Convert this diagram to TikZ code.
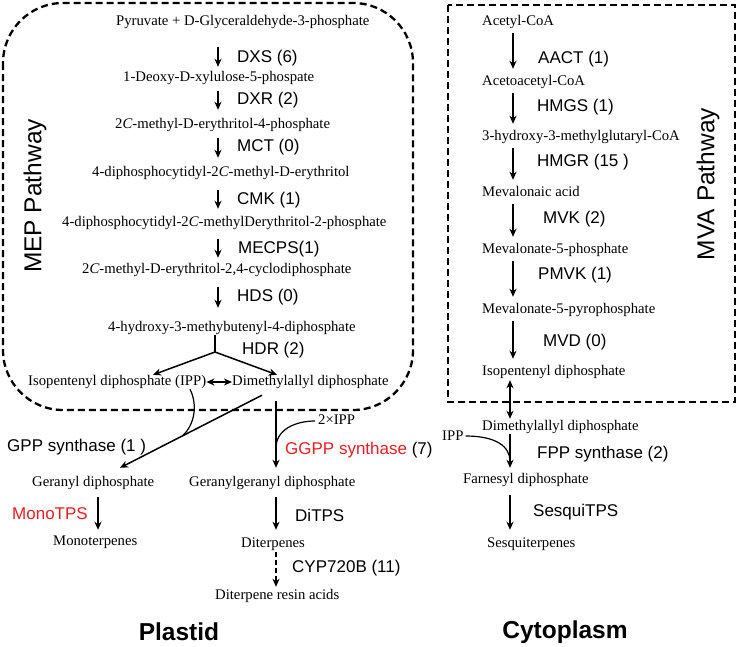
\documentclass[tikz,border=0pt]{standalone}
\usepackage{fontspec}
\setmainfont{Liberation Serif}
\setsansfont{Liberation Sans}
\usetikzlibrary{arrows.meta,calc}
\definecolor{enzred}{RGB}{230,30,36}
\tikzset{
  chem/.style={font=\fontsize{14.7}{16}\selectfont, inner sep=0pt, text height=10.5pt, text depth=3.5pt, anchor=west},
  enz/.style={font=\sffamily\fontsize{17}{19}\selectfont, inner sep=0pt, anchor=west},
  flow/.style={line width=1.5pt, -{Stealth[length=8pt,width=7pt,inset=2.5pt]}},
  dflow/.style={line width=1.5pt, {Stealth[length=8pt,width=7pt,inset=2.5pt]}-{Stealth[length=8pt,width=7pt,inset=2.5pt]}},
  region/.style={line width=2.3pt, dash pattern=on 7pt off 4pt},
  side/.style={font=\sffamily\fontsize{24.5}{26}\selectfont, rotate=90},
  place/.style={font=\sffamily\bfseries\fontsize{24.5}{26}\selectfont}
}
\begin{document}
\begin{tikzpicture}[x=1pt,y=-1pt]
    \useasboundingbox (0,0) rectangle (739,646);

    % compartments
    \draw[region, rounded corners=60pt] (3,3) rectangle (413,410); % MEP
    \draw[region] (448,5) rectangle (735,402); % MVA
    \node[side] (meplab) at (35,196) {MEP Pathway};
    \node[side] (mvalab) at (708,184) {MVA Pathway};

    % MEP pathway
    \coordinate (mepx) at (218,0);
    \node[chem] (pyr) at (116,22) {Pyruvate + D-Glyceraldehyde-3-phosphate};
    \node[chem] (dxp) at (123,78) {1-Deoxy-D-xylulose-5-phospate};
    \node[chem] (mep) at (115,125) {2\textit{C}-methyl-D-erythritol-4-phosphate};
    \node[chem] (cdpme) at (92,173) {4-diphosphocytidyl-2\textit{C}-methyl-D-erythritol};
    \node[chem] (cdpmep) at (62,223) {4-diphosphocytidyl-2\textit{C}-methylDerythritol-2-phosphate};
    \node[chem] (mecpp) at (82,270) {2\textit{C}-methyl-D-erythritol-2,4-cyclodiphosphate};
    \node[chem] (hmbpp) at (108,328) {4-hydroxy-3-methybutenyl-4-diphosphate};

    \draw[flow, shorten <=18pt, shorten >=4pt] (pyr.south -| mepx) -- (dxp.north -| mepx);
    \draw[flow, shorten <=6pt, shorten >=8pt] (dxp.south -| mepx) -- (mep.north -| mepx);
    \draw[flow, shorten <=6pt, shorten >=8pt] (mep.south -| mepx) -- (cdpme.north -| mepx);
    \draw[flow, shorten <=10pt, shorten >=7pt] (cdpme.south -| mepx) -- (cdpmep.north -| mepx);
    \draw[flow, shorten <=9pt, shorten >=5pt] (cdpmep.south -| mepx) -- (mecpp.north -| mepx);
    \draw[flow, shorten <=10pt, shorten >=13pt] (mecpp.south -| mepx) -- (hmbpp.north -| mepx);

    \node[enz] (dxs) at (237,58) {DXS (6)};
    \node[enz] (dxr) at (237,100) {DXR (2)};
    \node[enz] (mct) at (237,147) {MCT (0)};
    \node[enz] (cmk) at (237,200) {CMK (1)};
    \node[enz] (mecps) at (238,249) {MECPS(1)};
    \node[enz] (hds) at (237,297) {HDS (0)};

    % HDR branch
    \node[chem] (ipp) at (28,382) {Isopentenyl diphosphate (IPP)};
    \node[chem] (dmapp) at (232,382) {Dimethylallyl diphosphate};
    \node[enz] (hdr) at (242,350) {HDR (2)};
    \coordinate (hdrfork) at (215,352);
    \draw[line width=1.5pt] (hmbpp.south -| hdrfork) -- (hdrfork);
    \draw[flow] (hdrfork) -- ($(ipp.north west)+(125,0)$);
    \draw[flow] (hdrfork) -- ($(dmapp.north west)+(45,0)$);
    \draw[dflow] (ipp.east) -- (dmapp.west);

    % GPP and GGPP
    \node[chem] (gpp) at (32,483) {Geranyl diphosphate};
    \node[chem] (ggpp) at (189,483) {Geranylgeranyl diphosphate};
    \node[chem] (twoipp) at (318,421) {2×IPP};
    \node[enz] (gpps) at (7,447) {GPP synthase (1 )};
    \node[enz] (ggpps) at (285,450) {\textcolor{enzred}{GGPP synthase} (7)};

    \coordinate (gppfrom) at ($(dmapp.south west)+(30,6)$);
    \coordinate (gppto) at ($(gpp.north west)+(88,-8)$);
    \coordinate (gppjoin) at ($(gppfrom)!0.56!(gppto)$);
    \draw[flow] (gppfrom) -- (gppto);
    \draw[line width=1.2pt] ($(ipp.south west)+(162,0)$) .. controls +(8,16) and +(12,-11) .. (gppjoin);

    \coordinate (ggfrom) at ($(dmapp.south west)+(44,12)$);
    \coordinate (ggto) at ($(ggpp.north west)+(87,-8)$);
    \coordinate (ggjoin) at ($(ggfrom)!0.7!(ggto)$);
    \draw[flow] (ggfrom) -- (ggto);
    \draw[line width=1.2pt] ($(twoipp.west)+(-3,0)$) .. controls +(-20,0) and +(0,-18) .. (ggjoin);

    % terpenes in the plastid
    \coordinate (monox) at (98,0);
    \node[chem] (mono) at (53,542) {Monoterpenes};
    \node[chem] (diterp) at (241,544) {Diterpenes};
    \node[chem] (resin) at (215,596) {Diterpene resin acids};
    \draw[flow, shorten <=7pt, shorten >=5pt] (gpp.south -| monox) -- (mono.north -| monox);
    \draw[flow, shorten <=7pt, shorten >=7pt] (ggpp.south -| ggto) -- (diterp.north -| ggto);
    \draw[flow, dash pattern=on 5pt off 3pt, shorten <=1pt, shorten >=2pt] (diterp.south -| ggto) -- (resin.north -| ggto);
    \node[enz, text=enzred] (monotps) at (12,514) {MonoTPS};
    \node[enz] (ditps) at (295,515) {DiTPS};
    \node[enz] (cyp) at (292,568) {CYP720B (11)};

    % MVA pathway
    \coordinate (mvax) at (513,0);
    \node[chem] (acoa) at (482,22) {Acetyl-CoA};
    \node[chem] (aacoa) at (482,82) {Acetoacetyl-CoA};
    \node[chem] (hmgcoa) at (482,137) {3-hydroxy-3-methylglutaryl-CoA};
    \node[chem] (mva) at (482,193) {Mevalonaic acid};
    \node[chem] (mvp) at (482,250) {Mevalonate-5-phosphate};
    \node[chem] (mvpp) at (482,310) {Mevalonate-5-pyrophosphate};
    \node[chem] (ipp2) at (482,372) {Isopentenyl diphosphate};

    \draw[flow, shorten <=4pt, shorten >=6pt] (acoa.south -| mvax) -- (aacoa.north -| mvax);
    \draw[flow, shorten <=4pt, shorten >=6pt] (aacoa.south -| mvax) -- (hmgcoa.north -| mvax);
    \draw[flow, shorten <=4pt, shorten >=6pt] (hmgcoa.south -| mvax) -- (mva.north -| mvax);
    \draw[flow, shorten <=4pt, shorten >=6pt] (mva.south -| mvax) -- (mvp.north -| mvax);
    \draw[flow, shorten <=4pt, shorten >=6pt] (mvp.south -| mvax) -- (mvpp.north -| mvax);
    \draw[flow, shorten <=4pt, shorten >=6pt] (mvpp.south -| mvax) -- (ipp2.north -| mvax);

    \node[enz] (aact) at (538,59) {AACT (1)};
    \node[enz] (hmgs) at (537,107) {HMGS (1)};
    \node[enz] (hmgr) at (537,162) {HMGR (15 )};
    \node[enz] (mvk) at (543,219) {MVK (2)};
    \node[enz] (pmvk) at (538,275) {PMVK (1)};
    \node[enz] (mvd) at (543,342) {MVD (0)};

    % cytoplasm
    \coordinate (cytox) at (510,0);
    \node[chem] (cdmapp) at (482,427) {Dimethylallyl diphosphate};
    \node[chem] (cipp) at (442,437) {IPP};
    \node[chem] (fpp) at (463,480) {Farnesyl diphosphate};
    \node[chem] (sesq) at (487,544) {Sesquiterpenes};
    \draw[dflow, shorten <=1pt, shorten >=1pt] (ipp2.south -| cytox) -- (cdmapp.north -| cytox);
    \draw[flow, shorten >=5pt] (cdmapp.south -| cytox) -- (fpp.north -| cytox);
    \coordinate (fppjoin) at ($(cdmapp.south -| cytox)!0.7!(fpp.north -| cytox)$);
    \draw[line width=1.2pt] ($(cipp.east)+(2,-1)$) .. controls +(30,0) and +(0,-15) .. (fppjoin);
    \draw[flow, shorten <=8pt, shorten >=7pt] (fpp.south -| cytox) -- (sesq.north -| cytox);
    \node[enz] (fpps) at (537,454) {FPP synthase (2)};
    \node[enz] (sesqtps) at (533,512) {SesquiTPS};

    \node[place] (plastid) at (179,632) {Plastid};
    \node[place] (cyto) at (565,632) {Cytoplasm};
\end{tikzpicture}
\end{document}
